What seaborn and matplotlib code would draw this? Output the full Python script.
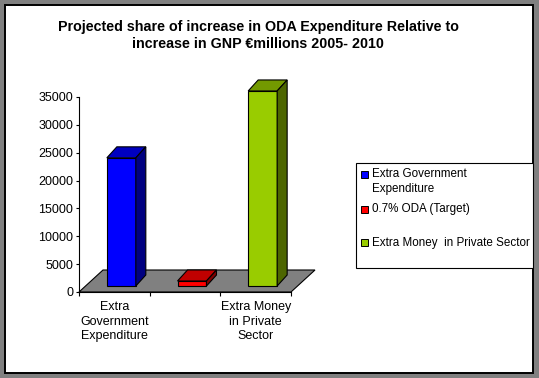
import matplotlib
matplotlib.use("Agg")
import matplotlib.pyplot as plt
import seaborn as sns
from matplotlib.patches import Rectangle, Polygon
from matplotlib.transforms import ScaledTranslation, IdentityTransform

# chart data
categories = ["Extra Government Expenditure", "0.7% ODA (Target)", "Extra Money  in Private Sector"]
values = [23000, 900, 35000]
tick_labels = ["Extra\nGovernment\nExpenditure", "", "Extra Money\nin Private\nSector"]
legend_labels = ["Extra Government\nExpenditure", "0.7% ODA (Target)", "Extra Money  in Private Sector"]
yticks = [0, 5000, 10000, 15000, 20000, 25000, 30000, 35000]
title = "Projected share of increase in ODA Expenditure Relative to\nincrease in GNP €millions 2005- 2010"

# colours: front, top (shaded), side (darker)
front_colors = ["#0000FF", "#FF0000", "#99CC00"]
top_colors = ["#0000C0", "#C00000", "#739900"]
side_colors = ["#000080", "#800000", "#4D6600"]

W, H, DPI = 539, 378, 100

sns.set_style("white")
plt.rcParams['font.family'] = ['Liberation Sans', 'DejaVu Sans']
plt.rcParams['text.color'] = 'black'

fig = plt.figure(figsize=(W / DPI, H / DPI), dpi=DPI, facecolor="#808080")

# white chart area with black border
fig.patches.append(Rectangle((5 / W, 5 / H), 528 / W, 368 / H, transform=fig.transFigure,
                             facecolor="white", edgecolor="black", linewidth=1.4, zorder=-1))

ax = fig.add_axes([79 / W, (H - 292) / H, 212 / W, 222.9 / H])
ax.set_facecolor("none")

sns.barplot(x=categories, y=values, hue=categories, palette=front_colors, saturation=1,
            width=0.41, edgecolor="black", linewidth=0.8, legend=False, ax=ax, zorder=3)
bars = list(ax.patches)

ax.set_xlim(-0.5, 2.5)
ax.set_ylim(0, 40000)

# bars stand half way back on the floor
bar_shift = ScaledTranslation(7 / DPI, 6 / DPI, fig.dpi_scale_trans)
depth = (10, 11)      # bar depth in pixels
floor_depth = (24, 22)

for p in bars:
    p.set_transform(ax.transData + bar_shift)
    p.set_clip_on(False)

# floor
fl = ax.transData.transform([(-0.5, 0), (2.5, 0)])
floor = [fl[0], fl[1], fl[1] + floor_depth, fl[0] + floor_depth]
ax.add_patch(Polygon(floor, closed=True, transform=IdentityTransform(), facecolor="#808080",
                     edgecolor="black", linewidth=0.8, zorder=1, clip_on=False))

# top and side faces of each bar
for i, p in enumerate(bars):
    x0 = p.get_x()
    x1 = x0 + p.get_width()
    h = p.get_height()
    tl, tr, br = ax.transData.transform([(x0, h), (x1, h), (x1, 0)]) + (7, 6)
    top = [tl, tr, tr + depth, tl + depth]
    side = [tr, br, br + depth, tr + depth]
    ax.add_patch(Polygon(top, closed=True, transform=IdentityTransform(), facecolor=top_colors[i],
                         edgecolor="black", linewidth=0.8, zorder=3, clip_on=False))
    ax.add_patch(Polygon(side, closed=True, transform=IdentityTransform(), facecolor=side_colors[i],
                         edgecolor="black", linewidth=0.8, zorder=3, clip_on=False))

# axes styling
sns.despine(ax=ax)
for s in ["left", "bottom"]:
    ax.spines[s].set_color("black")
    ax.spines[s].set_linewidth(0.8)
ax.spines["left"].set_bounds(0, 35000)

ax.set_yticks(yticks)
ax.tick_params(axis="y", left=True, direction="out", length=2.2, width=0.8, pad=2,
               labelsize=9, labelcolor="black", color="black")

ax.set_xticks([-0.5, 0.5, 1.5, 2.5], labels=[""] * 4)
ax.set_xticks([0, 1, 2], labels=tick_labels, minor=True)
ax.tick_params(axis="x", which="major", bottom=True, direction="out", length=3, width=0.8, color="black")
ax.tick_params(axis="x", which="minor", bottom=True, length=0, pad=6.5, labelsize=9, labelcolor="black")
for t in ax.get_xticklabels(minor=True):
    t.set_linespacing(1.3)
ax.set_xlabel("")
ax.set_ylabel("")

# title
fig.text(258 / W, 1 - 35.3 / H, title, ha="center", va="center", fontsize=10.3,
         fontweight="bold", linespacing=1.22, color="black")

# legend box
fig.patches.append(Rectangle((355.7 / W, (H - 267.5) / H), 177.3 / W, 104.5 / H,
                             transform=fig.transFigure, facecolor="white",
                             edgecolor="black", linewidth=0.8, zorder=2))
entry_y = [174.3, 209, 242.7]
for i, lab in enumerate(legend_labels):
    y = entry_y[i]
    fig.patches.append(Rectangle((361 / W, 1 - (y + 3.5) / H), 7 / W, 7 / H,
                                 transform=fig.transFigure, facecolor=front_colors[i],
                                 edgecolor="black", linewidth=0.7, zorder=3))
    for j, line in enumerate(lab.split("\n")):
        fig.text(372 / W, 1 - (y + j * 14.7) / H, line, ha="left", va="center",
                 fontsize=8.4, color="black", zorder=4)

fig.savefig("out.png", dpi=DPI, facecolor=fig.get_facecolor())
